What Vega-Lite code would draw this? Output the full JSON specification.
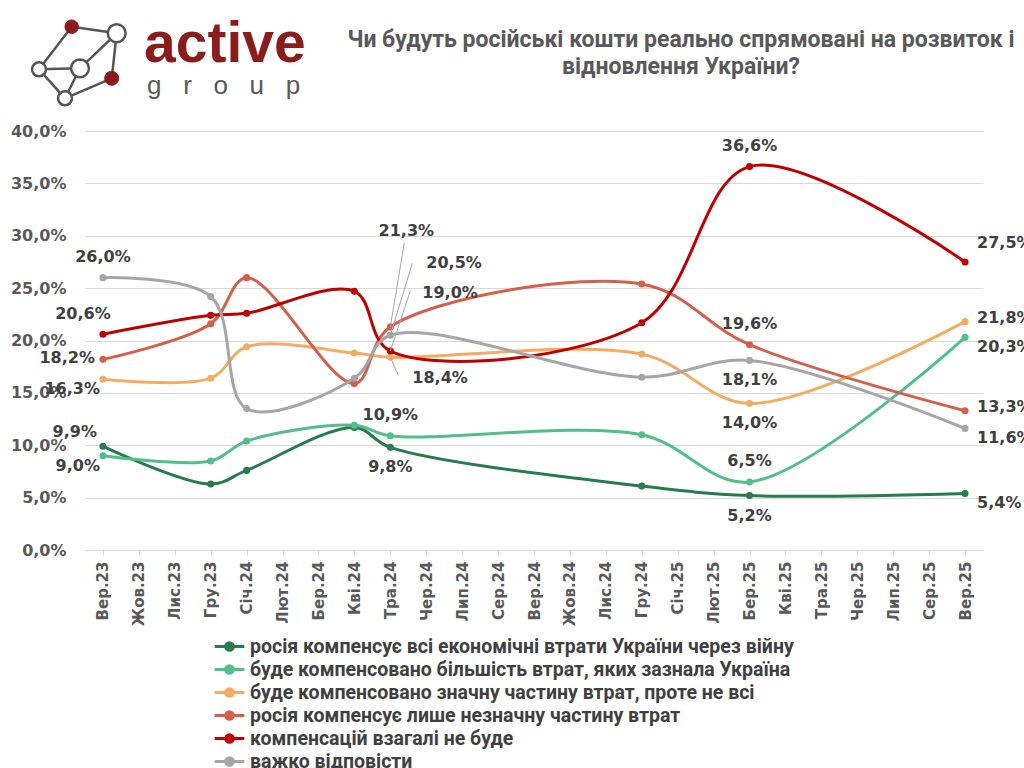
{
  "$schema": "https://vega.github.io/schema/vega-lite/v6.json",
  "width": 898,
  "height": 419,
  "autosize": {"type": "none"},
  "padding": {"left": 85, "top": 131, "right": 41, "bottom": 218},
  "background": "white",
  "title": {
    "text": ["Чи будуть російські кошти реально спрямовані на розвиток і", "відновлення України?"],
    "anchor": "middle",
    "frame": "group",
    "dx": 147,
    "offset": 0,
    "dy": 63,
    "font": "Roboto",
    "fontSize": 23,
    "fontWeight": "bold",
    "color": "#595959",
    "lineHeight": 27
  },
  "data": {
    "values": [
      {"m": "Вер.23", "k": 1, "s": "росія компенсує всі економічні втрати України через війну", "v": 9.9},
      {"m": "Гру.23", "k": 1, "s": "росія компенсує всі економічні втрати України через війну", "v": 6.3},
      {"m": "Січ.24", "k": 1, "s": "росія компенсує всі економічні втрати України через війну", "v": 7.6},
      {"m": "Кві.24", "k": 1, "s": "росія компенсує всі економічні втрати України через війну", "v": 11.7},
      {"m": "Тра.24", "k": 1, "s": "росія компенсує всі економічні втрати України через війну", "v": 9.8},
      {"m": "Гру.24", "k": 1, "s": "росія компенсує всі економічні втрати України через війну", "v": 6.1},
      {"m": "Бер.25", "k": 1, "s": "росія компенсує всі економічні втрати України через війну", "v": 5.2},
      {"m": "Вер.25", "k": 1, "s": "росія компенсує всі економічні втрати України через війну", "v": 5.4},
      {"m": "Вер.23", "k": 2, "s": "буде компенсовано більшість втрат, яких зазнала Україна", "v": 9.0},
      {"m": "Гру.23", "k": 2, "s": "буде компенсовано більшість втрат, яких зазнала Україна", "v": 8.5},
      {"m": "Січ.24", "k": 2, "s": "буде компенсовано більшість втрат, яких зазнала Україна", "v": 10.4},
      {"m": "Кві.24", "k": 2, "s": "буде компенсовано більшість втрат, яких зазнала Україна", "v": 11.9},
      {"m": "Тра.24", "k": 2, "s": "буде компенсовано більшість втрат, яких зазнала Україна", "v": 10.9},
      {"m": "Гру.24", "k": 2, "s": "буде компенсовано більшість втрат, яких зазнала Україна", "v": 11.0},
      {"m": "Бер.25", "k": 2, "s": "буде компенсовано більшість втрат, яких зазнала Україна", "v": 6.5},
      {"m": "Вер.25", "k": 2, "s": "буде компенсовано більшість втрат, яких зазнала Україна", "v": 20.3},
      {"m": "Вер.23", "k": 3, "s": "буде компенсовано значну частину втрат, проте не всі", "v": 16.3},
      {"m": "Гру.23", "k": 3, "s": "буде компенсовано значну частину втрат, проте не всі", "v": 16.4},
      {"m": "Січ.24", "k": 3, "s": "буде компенсовано значну частину втрат, проте не всі", "v": 19.4},
      {"m": "Кві.24", "k": 3, "s": "буде компенсовано значну частину втрат, проте не всі", "v": 18.8},
      {"m": "Тра.24", "k": 3, "s": "буде компенсовано значну частину втрат, проте не всі", "v": 18.4},
      {"m": "Гру.24", "k": 3, "s": "буде компенсовано значну частину втрат, проте не всі", "v": 18.7},
      {"m": "Бер.25", "k": 3, "s": "буде компенсовано значну частину втрат, проте не всі", "v": 14.0},
      {"m": "Вер.25", "k": 3, "s": "буде компенсовано значну частину втрат, проте не всі", "v": 21.8},
      {"m": "Вер.23", "k": 4, "s": "росія компенсує лише незначну частину втрат", "v": 18.2},
      {"m": "Гру.23", "k": 4, "s": "росія компенсує лише незначну частину втрат", "v": 21.6},
      {"m": "Січ.24", "k": 4, "s": "росія компенсує лише незначну частину втрат", "v": 26.0},
      {"m": "Кві.24", "k": 4, "s": "росія компенсує лише незначну частину втрат", "v": 15.9},
      {"m": "Тра.24", "k": 4, "s": "росія компенсує лише незначну частину втрат", "v": 21.3},
      {"m": "Гру.24", "k": 4, "s": "росія компенсує лише незначну частину втрат", "v": 25.4},
      {"m": "Бер.25", "k": 4, "s": "росія компенсує лише незначну частину втрат", "v": 19.6},
      {"m": "Вер.25", "k": 4, "s": "росія компенсує лише незначну частину втрат", "v": 13.3},
      {"m": "Вер.23", "k": 5, "s": "компенсацій взагалі не буде", "v": 20.6},
      {"m": "Гру.23", "k": 5, "s": "компенсацій взагалі не буде", "v": 22.4},
      {"m": "Січ.24", "k": 5, "s": "компенсацій взагалі не буде", "v": 22.6},
      {"m": "Кві.24", "k": 5, "s": "компенсацій взагалі не буде", "v": 24.7},
      {"m": "Тра.24", "k": 5, "s": "компенсацій взагалі не буде", "v": 19.0},
      {"m": "Гру.24", "k": 5, "s": "компенсацій взагалі не буде", "v": 21.7},
      {"m": "Бер.25", "k": 5, "s": "компенсацій взагалі не буде", "v": 36.6},
      {"m": "Вер.25", "k": 5, "s": "компенсацій взагалі не буде", "v": 27.5},
      {"m": "Вер.23", "k": 6, "s": "важко відповісти", "v": 26.0},
      {"m": "Гру.23", "k": 6, "s": "важко відповісти", "v": 24.2},
      {"m": "Січ.24", "k": 6, "s": "важко відповісти", "v": 13.5},
      {"m": "Кві.24", "k": 6, "s": "важко відповісти", "v": 16.4},
      {"m": "Тра.24", "k": 6, "s": "важко відповісти", "v": 20.5},
      {"m": "Гру.24", "k": 6, "s": "важко відповісти", "v": 16.5},
      {"m": "Бер.25", "k": 6, "s": "важко відповісти", "v": 18.1},
      {"m": "Вер.25", "k": 6, "s": "важко відповісти", "v": 11.6}
    ]
  },
  "transform": [
    {"calculate": "replace(format(datum.v, '.1f'), '.', ',') + '%'", "as": "lab"},
    {"calculate": "datum.m + '|' + datum.k", "as": "key"}
  ],
  "encoding": {
    "x": {
      "field": "m",
      "type": "ordinal",
      "sort": null,
      "scale": {
        "type": "point",
        "padding": 0.5,
        "domain": ["Вер.23", "Жов.23", "Лис.23", "Гру.23", "Січ.24", "Лют.24", "Бер.24", "Кві.24", "Тра.24", "Чер.24", "Лип.24", "Сер.24", "Вер.24", "Жов.24", "Лис.24", "Гру.24", "Січ.25", "Лют.25", "Бер.25", "Кві.25", "Тра.25", "Чер.25", "Лип.25", "Сер.25", "Вер.25"]
      },
      "axis": {
        "title": null,
        "labelAngle": -90,
        "labelAlign": "right",
        "labelBaseline": "middle",
        "labelFont": "DejaVu Sans",
        "labelFontSize": 15,
        "labelFontWeight": "bold",
        "labelColor": "#595959",
        "labelPadding": 6,
        "domainColor": "#d9d9d9",
        "tickColor": "#d9d9d9",
        "tickSize": 5,
        "grid": false
      }
    },
    "y": {
      "field": "v",
      "type": "quantitative",
      "scale": {"domain": [0, 40]},
      "axis": {
        "title": null,
        "values": [0, 5, 10, 15, 20, 25, 30, 35, 40],
        "labelExpr": "replace(format(datum.value, '.1f'), '.', ',') + '%'",
        "labelFont": "DejaVu Sans",
        "labelFontSize": 16,
        "labelFontWeight": "bold",
        "labelColor": "#595959",
        "labelPadding": 19,
        "domain": false,
        "ticks": false,
        "gridColor": "#d9d9d9",
        "gridWidth": 1.2
      }
    }
  },
  "layer": [
    {
      "mark": {"type": "line", "interpolate": "catmull-rom", "strokeWidth": 3},
      "encoding": {
        "color": {
          "field": "s",
          "type": "nominal",
          "sort": null,
          "scale": {
            "domain": ["росія компенсує всі економічні втрати України через війну", "буде компенсовано більшість втрат, яких зазнала Україна", "буде компенсовано значну частину втрат, проте не всі", "росія компенсує лише незначну частину втрат", "компенсацій взагалі не буде", "важко відповісти"],
            "range": ["#287B4F", "#52BE8A", "#F4AC62", "#D4604B", "#C00000", "#A6A6A6"]
          },
          "legend": {
            "title": null,
            "orient": "none",
            "legendX": 132,
            "legendY": 503,
            "direction": "vertical",
            "labelFont": "Roboto",
            "labelFontSize": 19.5,
            "labelFontWeight": "bold",
            "labelColor": "#404040",
            "labelLimit": 0,
            "labelOffset": 8,
            "symbolType": "M-1.35,0L-0.35,0M0.35,0L1.35,0M0.35,0A0.35,0.35,0,1,1,-0.35,0A0.35,0.35,0,1,1,0.35,0",
            "symbolSize": 484,
            "symbolStrokeWidth": 3,
            "rowPadding": 0
          }
        }
      }
    },
    {
      "mark": {"type": "circle", "size": 50, "opacity": 1},
      "encoding": {
        "color": {"field": "s", "type": "nominal", "sort": null, "legend": null}
      }
    },
    {
      "transform": [{"filter": "datum.key == 'Тра.24|4'"}],
      "mark": {"type": "rule", "color": "#A6A6A6", "strokeWidth": 1, "x2Offset": 14, "y2Offset": -84},
      "encoding": {"x2": {"field": "m"}, "y2": {"field": "v"}}
    },
    {
      "transform": [{"filter": "datum.key == 'Тра.24|6'"}],
      "mark": {"type": "rule", "color": "#A6A6A6", "strokeWidth": 1, "x2Offset": 22, "y2Offset": -72},
      "encoding": {"x2": {"field": "m"}, "y2": {"field": "v"}}
    },
    {
      "transform": [{"filter": "datum.key == 'Тра.24|5'"}],
      "mark": {"type": "rule", "color": "#A6A6A6", "strokeWidth": 1, "x2Offset": 20, "y2Offset": -60},
      "encoding": {"x2": {"field": "m"}, "y2": {"field": "v"}}
    },
    {
      "transform": [{"filter": "datum.key == 'Тра.24|3'"}],
      "mark": {"type": "rule", "color": "#A6A6A6", "strokeWidth": 1, "x2Offset": 8, "y2Offset": 18},
      "encoding": {"x2": {"field": "m"}, "y2": {"field": "v"}}
    },
    {
      "transform": [{"filter": "indexof(['Вер.23|6','Тра.24|2','Бер.25|5','Бер.25|4','Бер.25|2'], datum.key) >= 0"}],
      "mark": {"type": "text", "dy": -21, "font": "DejaVu Sans", "fontSize": 16, "fontWeight": "bold", "color": "#404040"},
      "encoding": {"text": {"field": "lab"}}
    },
    {
      "transform": [{"filter": "indexof(['Тра.24|1','Бер.25|6','Бер.25|3','Бер.25|1'], datum.key) >= 0"}],
      "mark": {"type": "text", "dy": 20, "font": "DejaVu Sans", "fontSize": 16, "fontWeight": "bold", "color": "#404040"},
      "encoding": {"text": {"field": "lab"}}
    },
    {
      "transform": [{"filter": "datum.key == 'Вер.23|5'"}],
      "mark": {"type": "text", "dx": -20, "dy": -20, "font": "DejaVu Sans", "fontSize": 16, "fontWeight": "bold", "color": "#404040"},
      "encoding": {"text": {"field": "lab"}}
    },
    {
      "transform": [{"filter": "datum.key == 'Вер.23|1'"}],
      "mark": {"type": "text", "align": "right", "dx": -6, "dy": -14, "font": "DejaVu Sans", "fontSize": 16, "fontWeight": "bold", "color": "#404040"},
      "encoding": {"text": {"field": "lab"}}
    },
    {
      "transform": [{"filter": "datum.key == 'Вер.23|4'"}],
      "mark": {"type": "text", "align": "right", "dx": -8, "dy": -1, "font": "DejaVu Sans", "fontSize": 16, "fontWeight": "bold", "color": "#404040"},
      "encoding": {"text": {"field": "lab"}}
    },
    {
      "transform": [{"filter": "indexof(['Вер.23|3','Вер.23|2'], datum.key) >= 0"}],
      "mark": {"type": "text", "align": "right", "dx": -3, "dy": 10, "font": "DejaVu Sans", "fontSize": 16, "fontWeight": "bold", "color": "#404040"},
      "encoding": {"text": {"field": "lab"}}
    },
    {
      "transform": [{"filter": "indexof(['Вер.25|3','Вер.25|4'], datum.key) >= 0"}],
      "mark": {"type": "text", "align": "left", "dx": 12, "dy": -4, "font": "DejaVu Sans", "fontSize": 16, "fontWeight": "bold", "color": "#404040"},
      "encoding": {"text": {"field": "lab"}}
    },
    {
      "transform": [{"filter": "indexof(['Вер.25|2','Вер.25|6','Вер.25|1'], datum.key) >= 0"}],
      "mark": {"type": "text", "align": "left", "dx": 12, "dy": 10, "font": "DejaVu Sans", "fontSize": 16, "fontWeight": "bold", "color": "#404040"},
      "encoding": {"text": {"field": "lab"}}
    },
    {
      "transform": [{"filter": "datum.key == 'Вер.25|5'"}],
      "mark": {"type": "text", "align": "left", "dx": 12, "dy": -19, "font": "DejaVu Sans", "fontSize": 16, "fontWeight": "bold", "color": "#404040"},
      "encoding": {"text": {"field": "lab"}}
    },
    {
      "transform": [{"filter": "datum.key == 'Тра.24|4'"}],
      "mark": {"type": "text", "dx": 16, "dy": -96, "font": "DejaVu Sans", "fontSize": 16, "fontWeight": "bold", "color": "#404040"},
      "encoding": {"text": {"field": "lab"}}
    },
    {
      "transform": [{"filter": "datum.key == 'Тра.24|6'"}],
      "mark": {"type": "text", "align": "left", "dx": 36, "dy": -72, "font": "DejaVu Sans", "fontSize": 16, "fontWeight": "bold", "color": "#404040"},
      "encoding": {"text": {"field": "lab"}}
    },
    {
      "transform": [{"filter": "datum.key == 'Тра.24|5'"}],
      "mark": {"type": "text", "align": "left", "dx": 32, "dy": -58, "font": "DejaVu Sans", "fontSize": 16, "fontWeight": "bold", "color": "#404040"},
      "encoding": {"text": {"field": "lab"}}
    },
    {
      "transform": [{"filter": "datum.key == 'Тра.24|3'"}],
      "mark": {"type": "text", "align": "left", "dx": 22, "dy": 21, "font": "DejaVu Sans", "fontSize": 16, "fontWeight": "bold", "color": "#404040"},
      "encoding": {"text": {"field": "lab"}}
    },
    {
      "data": {"values": [{"t": "active"}]},
      "mark": {"type": "text", "align": "left", "baseline": "alphabetic", "font": "Liberation Sans", "fontSize": 57, "fontWeight": "bold", "color": "#8B1C1C"},
      "encoding": {"x": {"value": 59}, "y": {"value": -69}, "text": {"field": "t"}}
    },
    {
      "data": {"values": [{"t": "g\u00a0\u00a0\u00a0r\u00a0\u00a0\u00a0o\u00a0\u00a0\u00a0u\u00a0\u00a0\u00a0p"}]},
      "mark": {"type": "text", "align": "left", "baseline": "alphabetic", "font": "Liberation Sans", "fontSize": 26, "color": "#595959"},
      "encoding": {"x": {"value": 62}, "y": {"value": -37}, "text": {"field": "t"}}
    },
    {
      "data": {"values": [{"t": "icon"}]},
      "mark": {
        "type": "point",
        "shape": "M-0.155,-0.772L0.802,-0.632M-0.155,-0.772L-0.851,0.134M-0.851,0.134L0.021,0.113M0.802,-0.632L0.021,0.113M0.802,-0.632L0.696,0.326M-0.851,0.134L-0.298,0.751M0.021,0.113L-0.298,0.751M0.696,0.326L-0.298,0.751",
        "size": 8836,
        "filled": false,
        "opacity": 1,
        "stroke": "#555555",
        "strokeWidth": 2.5
      },
      "encoding": {"x": {"value": -6}, "y": {"value": -68}}
    },
    {
      "data": {"values": [{"t": "icon"}]},
      "mark": {
        "type": "point",
        "shape": "M0.992,-0.632A0.19,0.19,0,1,1,0.612,-0.632A0.19,0.19,0,1,1,0.992,-0.632ZM0.211,0.113A0.19,0.19,0,1,1,-0.169,0.113A0.19,0.19,0,1,1,0.211,0.113ZM-0.702,0.134A0.149,0.149,0,1,1,-1,0.134A0.149,0.149,0,1,1,-0.702,0.134ZM-0.149,0.751A0.149,0.149,0,1,1,-0.447,0.751A0.149,0.149,0,1,1,-0.149,0.751Z",
        "size": 8836,
        "filled": true,
        "opacity": 1,
        "fill": "white",
        "stroke": "#555555",
        "strokeWidth": 2.5
      },
      "encoding": {"x": {"value": -6}, "y": {"value": -68}}
    },
    {
      "data": {"values": [{"t": "icon"}]},
      "mark": {
        "type": "point",
        "shape": "M-0.012,-0.772A0.143,0.143,0,1,1,-0.298,-0.772A0.143,0.143,0,1,1,-0.012,-0.772ZM0.845,0.326A0.149,0.149,0,1,1,0.547,0.326A0.149,0.149,0,1,1,0.845,0.326Z",
        "size": 8836,
        "filled": true,
        "opacity": 1,
        "fill": "#8B1C1C",
        "stroke": "#8B1C1C",
        "strokeWidth": 1
      },
      "encoding": {"x": {"value": -6}, "y": {"value": -68}}
    }
  ],
  "config": {
    "view": {"stroke": null},
    "font": "Liberation Sans"
  }
}
